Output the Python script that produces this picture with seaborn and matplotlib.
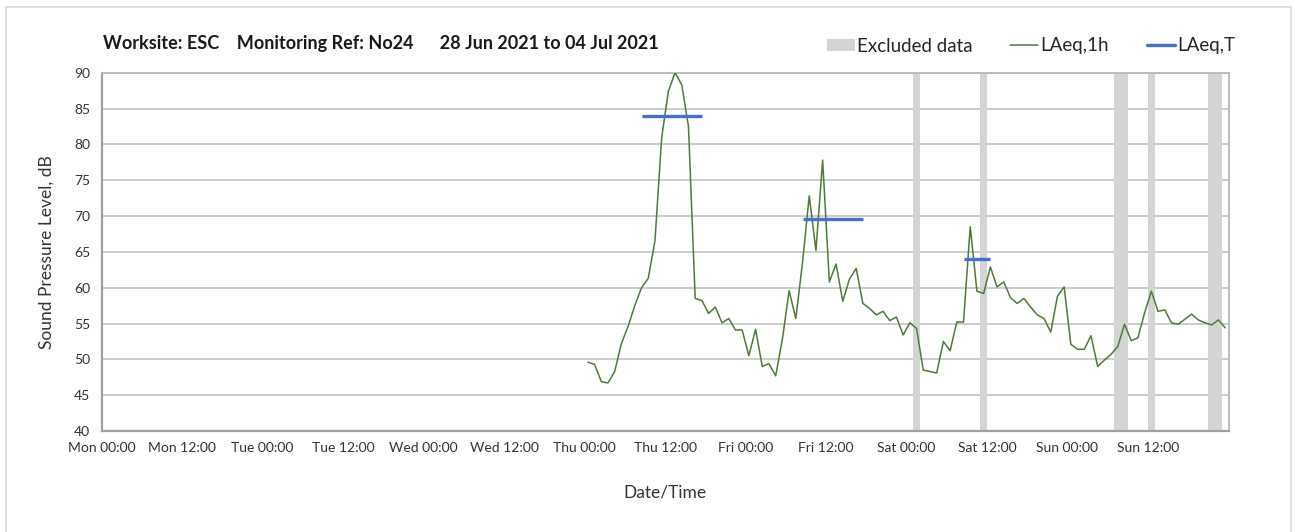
import numpy as np
import pandas as pd
import matplotlib
matplotlib.use("Agg")
import matplotlib.pyplot as plt
import seaborn as sns
from matplotlib.patches import Patch, Rectangle
from matplotlib.lines import Line2D

# ---------- Data ----------
week_start = pd.Timestamp("2021-06-28 00:00")

# LAeq,1h - hourly values, first reading Thu 01 Jul 00:30
laeq_1h_start = "2021-07-01 00:30"
laeq_1h = [49.6, 49.3, 46.9, 46.7, 48.3, 52.2, 54.6, 57.5, 60.0, 61.3,
           66.5, 80.9, 87.4, 90.0, 88.3, 82.5, 58.5, 58.2, 56.4, 57.3,
           55.1, 55.7, 54.1, 54.1, 50.5, 54.2, 49.0, 49.4, 47.7, 52.8,
           59.6, 55.7, 63.5, 72.8, 65.2, 77.8, 60.8, 63.3, 58.1, 61.2,
           62.7, 57.8, 57.1, 56.2, 56.7, 55.4, 55.9, 53.4, 55.1, 54.3,
           48.5, 48.3, 48.1, 52.5, 51.2, 55.2, 55.2, 68.5, 59.5, 59.2,
           62.9, 60.1, 60.8, 58.6, 57.8, 58.5, 57.3, 56.2, 55.7, 53.8,
           58.8, 60.1, 52.1, 51.4, 51.4, 53.3, 49.0, 49.9, 50.7, 51.8,
           54.9, 52.6, 53.0, 56.5, 59.5, 56.7, 56.9, 55.1, 54.9, 55.6,
           56.3, 55.5, 55.1, 54.8, 55.5, 54.4]

# LAeq,T - period averages
laeq_t_start = ["2021-07-01 08:30", "2021-07-02 08:30", "2021-07-03 08:30"]
laeq_t_end = ["2021-07-01 17:30", "2021-07-02 17:30", "2021-07-03 12:30"]
laeq_t = [84.0, 69.6, 64.0]

# Excluded data periods
excl_start = ["2021-07-03 01:00", "2021-07-03 11:00", "2021-07-04 07:00",
              "2021-07-04 12:00", "2021-07-04 21:00"]
excl_end = ["2021-07-03 02:00", "2021-07-03 12:00", "2021-07-04 09:00",
            "2021-07-04 13:00", "2021-07-04 23:00"]

tick_labels = ["Mon 00:00", "Mon 12:00", "Tue 00:00", "Tue 12:00",
               "Wed 00:00", "Wed 12:00", "Thu 00:00", "Thu 12:00",
               "Fri 00:00", "Fri 12:00", "Sat 00:00", "Sat 12:00",
               "Sun 00:00", "Sun 12:00", ""]


def hours(ts):
    return (pd.to_datetime(ts) - week_start) / pd.Timedelta(hours=1)


times = pd.date_range(laeq_1h_start, periods=len(laeq_1h), freq="h")
df = pd.DataFrame({"Hour": hours(times), "LAeq": laeq_1h})

# ---------- Plot ----------
sns.set_style("white")
plt.rcParams["font.family"] = ["Lato", "DejaVu Sans"]

fig = plt.figure(figsize=(12.95, 5.32), dpi=100)
ax = fig.add_axes([101.5 / 1295, 1 - 431 / 532, 1127 / 1295, (431 - 72.7) / 532])

# outer chart frame
fig.patches.append(Rectangle((6 / 1295, -0.05), 1284.5 / 1295, 1.05 - 7 / 532,
                             transform=fig.transFigure, fill=False,
                             ec="#d9d9d9", lw=1.2))

for s, e in zip(excl_start, excl_end):
    ax.axvspan(hours(s), hours(e), color="#d4d4d4", lw=0, zorder=1)

sns.lineplot(data=df, x="Hour", y="LAeq", ax=ax, color="#4e7a37", lw=1.1,
             zorder=3, legend=False)
ax.hlines(laeq_t, hours(laeq_t_start), hours(laeq_t_end), color="#4472c4",
          lw=2.4, zorder=4)

ax.set_xlim(0, 168)
ax.set_ylim(40, 90)
ax.set_yticks(np.arange(40, 91, 5))
ax.set_xticks(np.arange(0, 169, 12))
ax.set_xticklabels(tick_labels)
ax.set_xticks(np.arange(0, 169, 24), minor=True)

ax.grid(axis="y", which="major", color="#c8c8c8", lw=1.3, zorder=0)
ax.grid(axis="x", which="minor", color="#e0e0e0", lw=1.2, zorder=0)
ax.grid(axis="x", which="major", visible=False)
ax.set_axisbelow(True)

for side in ["left", "bottom"]:
    ax.spines[side].set_color("#a0a0a0")
    ax.spines[side].set_linewidth(1.6)
for side in ["top", "right"]:
    ax.spines[side].set_color("#b4b4b4")
    ax.spines[side].set_linewidth(1.2)

ax.tick_params(axis="both", which="major", direction="out", length=4,
               color="#a0a0a0", labelsize=10, labelcolor="#333333", pad=4)
ax.tick_params(axis="x", which="minor", length=0)

ax.set_xlabel("Date/Time", fontsize=12.5, color="#333333", labelpad=22)
ax.set_ylabel("Sound Pressure Level, dB", fontsize=12.5, color="#333333",
              labelpad=14)

fig.text(103 / 1295, 1 - 43 / 532,
         "Worksite: ESC    Monitoring Ref: No24      28 Jun 2021 to 04 Jul 2021",
         fontsize=13, fontweight="bold", color="#1a1a1a", va="center")

handles = [Patch(fc="#d4d4d4", ec="none", label="Excluded data"),
           Line2D([], [], color="#4e7a37", lw=1.1, label="LAeq,1h"),
           Line2D([], [], color="#4472c4", lw=2.4, label="LAeq,T")]
fig.legend(handles=handles, loc="center right", ncol=3, frameon=False,
           bbox_to_anchor=(1252 / 1295, 1 - 46 / 532), fontsize=13.5,
           handlelength=1.5, handleheight=0.6, handletextpad=0.12,
           columnspacing=2.0, labelcolor="#262626")

fig.savefig("out.png", dpi=100)
plt.close(fig)
